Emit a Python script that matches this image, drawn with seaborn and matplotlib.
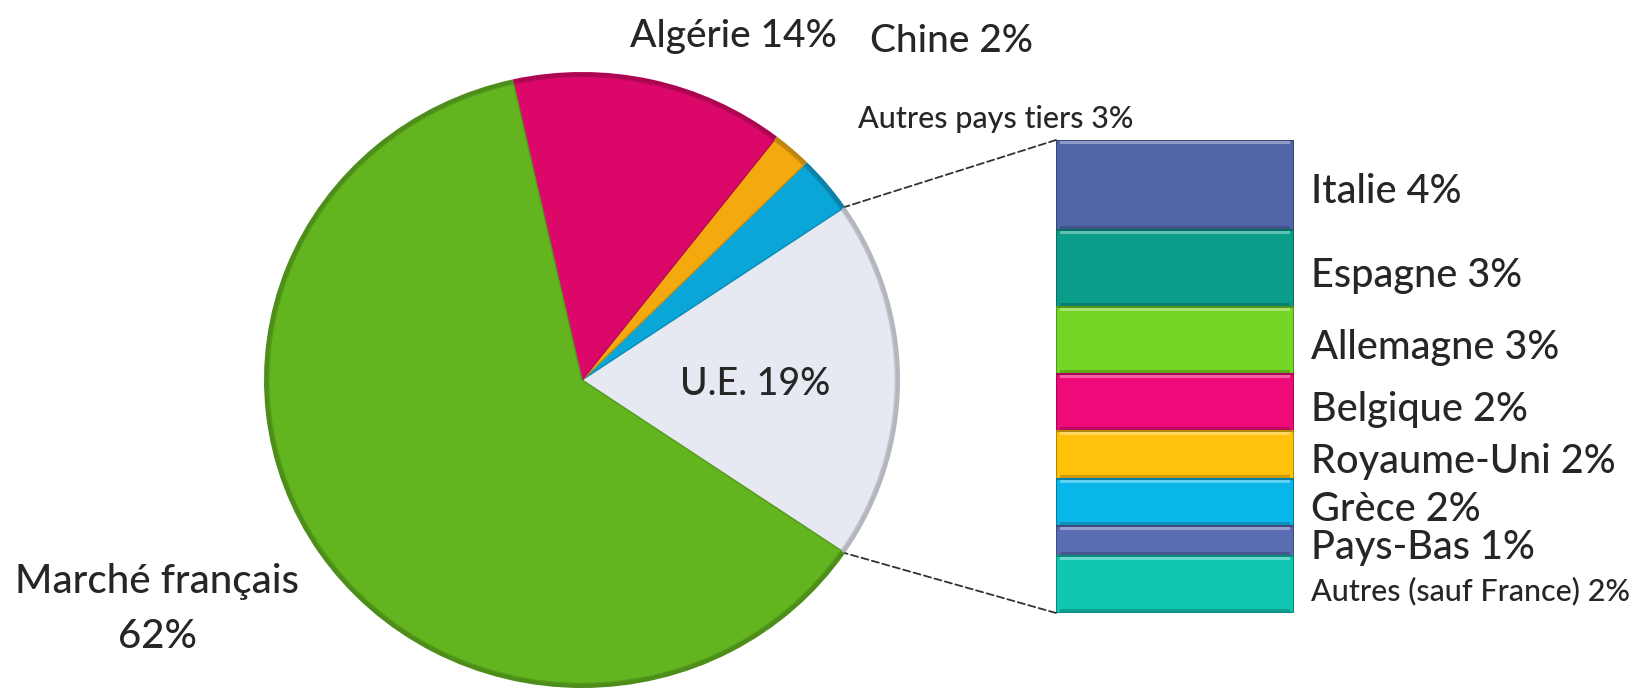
import matplotlib
matplotlib.use("Agg")
import matplotlib.pyplot as plt
from matplotlib.patches import ConnectionPatch
import numpy as np
import seaborn as sns

# Pie data (counter-clockwise, starting with the exploded U.E. share)
pie_labels = ["U.E.", "Autres pays tiers", "Chine", "Algérie", "Marché français"]
pie_values = [19, 3, 2, 14, 62]
pie_colors = ["#e6e9f1", "#0ba6d8", "#f4a90f", "#dc0869", "#63b520"]

# Breakdown of the U.E. share (top to bottom)
eu_labels = ["Italie", "Espagne", "Allemagne", "Belgique", "Royaume-Uni",
             "Grèce", "Pays-Bas", "Autres (sauf France)"]
eu_shown = ["4%", "3%", "3%", "2%", "2%", "2%", "1%", "2%"]
eu_values = [3.6, 3.1, 2.7, 2.3, 1.9, 1.9, 1.2, 2.3]
eu_colors = ["#5066a8", "#0a9e8a", "#76d626", "#ee0a78", "#ffc10a",
             "#08b6ea", "#5a6cb2", "#10c6b0"]

sns.set_theme(style="white")
plt.rcParams["font.family"] = ["Lato", "DejaVu Sans"]
plt.rcParams["font.weight"] = "medium"

W, H = 1648, 690
fig = plt.figure(figsize=(W / 100, H / 100), dpi=100)
fig.patch.set_facecolor("white")


def px_box(x0, y0, x1, y1):
    return [x0 / W, 1 - y1 / H, (x1 - x0) / W, (y1 - y0) / H]


def shade(c, f):
    r, g, b = matplotlib.colors.to_rgb(c)
    if f < 1:
        return (r * f, g * f, b * f)
    return (r + (1 - r) * (f - 1), g + (1 - g) * (f - 1), b + (1 - b) * (f - 1))


# pie (slightly elliptical, like the original)
ax_pie = fig.add_axes(px_box(264, 72, 900, 688))
start = -pie_values[0] * 3.6 / 2
# darker rim underneath, then the slices a little smaller for a bevel look
ax_pie.pie(pie_values, colors=[shade(c, 0.78) for c in pie_colors],
           startangle=start, radius=1, wedgeprops=dict(linewidth=0))
wedges, _ = ax_pie.pie(pie_values, colors=pie_colors, startangle=start,
                       radius=0.985,
                       wedgeprops=dict(linewidth=1.0))
for w, c in zip(wedges, pie_colors):
    w.set_edgecolor(shade(c, 0.85))
ax_pie.set_aspect("auto")
ax_pie.set_xlim(-1, 1)
ax_pie.set_ylim(-1, 1)
ax_pie.axis("off")

# stacked bar for the U.E. breakdown
ax_bar = fig.add_axes(px_box(1056, 140, 1294, 613))
total = sum(eu_values)
bottom = total
for lab, shown, val, col in zip(eu_labels, eu_shown, eu_values, eu_colors):
    bottom -= val
    ax_bar.bar(0.5, val, width=1, bottom=bottom, color=col,
               edgecolor=shade(col, 0.7), linewidth=1.5)
    # bevel: light strip on top, darker strip at the bottom
    ax_bar.bar(0.5, 0.12, width=0.97, bottom=bottom + val - 0.16,
               color=shade(col, 1.35), linewidth=0)
    ax_bar.bar(0.5, 0.12, width=0.97, bottom=bottom + 0.04,
               color=shade(col, 0.8), linewidth=0)
    small = lab.startswith("Autres")
    ax_bar.annotate(f"{lab} {shown}", xy=(1.07, bottom + val / 2),
                    xytext=(0, -5), textcoords="offset points",
                    fontsize=22 if small else 28.5, va="center", ha="left",
                    annotation_clip=False)
ax_bar.set_xlim(0, 1)
ax_bar.set_ylim(0, total)
ax_bar.axis("off")

# connector lines from the U.E. slice to the bar
theta1 = np.deg2rad(start)
theta2 = np.deg2rad(start + pie_values[0] * 3.6)
for th, yb in [(theta2, total), (theta1, 0)]:
    con = ConnectionPatch(xyA=(0, yb), coordsA=ax_bar.transData,
                          xyB=(np.cos(th), np.sin(th)), coordsB=ax_pie.transData,
                          color="#333333", linewidth=1.3, linestyle=(0, (4, 2)))
    fig.add_artist(con)


def ftext(x, y, s, **kw):
    fig.text(x / W, 1 - y / H, s, **kw)


ftext(733, 36, f"{pie_labels[3]} {pie_values[3]}%", fontsize=28, ha="center", va="center")
ftext(951, 41, f"{pie_labels[2]} {pie_values[2]}%", fontsize=28, ha="center", va="center")
ftext(996, 119, f"{pie_labels[1]} {pie_values[1]}%", fontsize=22, ha="center", va="center")
ftext(755, 395, f"{pie_labels[0]} {pie_values[0]}%", fontsize=27, ha="center", va="baseline")
ftext(157, 609, f"{pie_labels[4]}\n{pie_values[4]}%", fontsize=29, ha="center",
      va="center", linespacing=1.6)

fig.savefig("out.png", dpi=100, facecolor="white")
